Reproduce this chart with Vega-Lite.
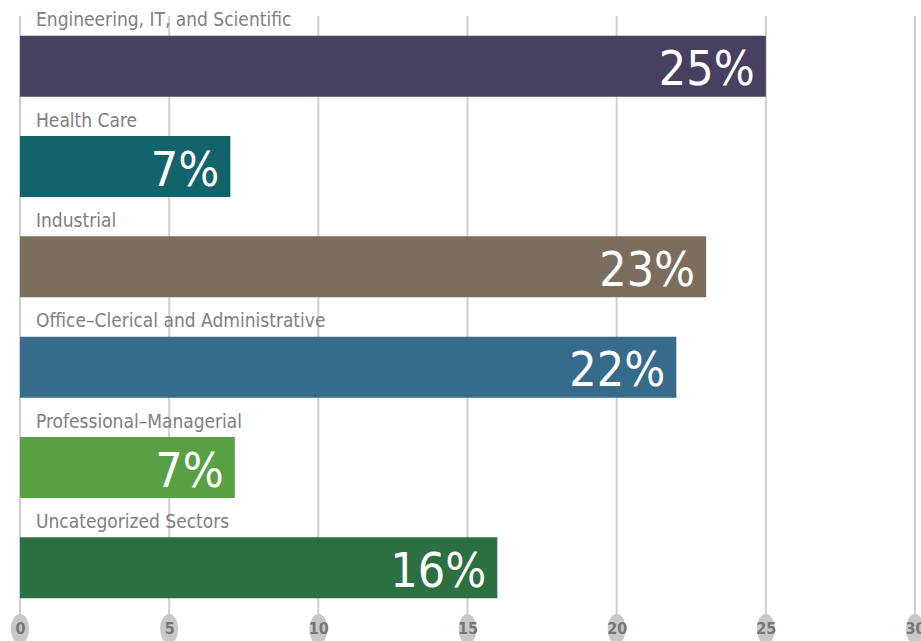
{
  "$schema": "https://vega.github.io/schema/vega-lite/v6.json",
  "width": 895,
  "height": 602,
  "autosize": "none",
  "padding": {"left": 20, "top": 16, "right": 6, "bottom": 23},
  "background": "white",
  "config": {"view": {"stroke": null}},
  "datasets": {
    "sectors": [
      {"sector": "Engineering, IT, and Scientific", "value": 25, "label": "25%"},
      {"sector": "Health Care", "value": 7.05, "label": "7%"},
      {"sector": "Industrial", "value": 23, "label": "23%"},
      {"sector": "Office–Clerical and Administrative", "value": 22, "label": "22%"},
      {"sector": "Professional–Managerial", "value": 7.2, "label": "7%"},
      {"sector": "Uncategorized Sectors", "value": 16, "label": "16%"}
    ],
    "ticks": [{"t": 0}, {"t": 5}, {"t": 10}, {"t": 15}, {"t": 20}, {"t": 25}, {"t": 30}]
  },
  "layer": [
    {
      "data": {"name": "ticks"},
      "mark": {"type": "rule", "color": "#cfcfcf", "strokeWidth": 2},
      "encoding": {
        "x": {
          "field": "t", "type": "quantitative",
          "scale": {"domain": [0, 30], "nice": false},
          "axis": {
            "values": [0, 5, 10, 15, 20, 25, 30],
            "grid": false, "ticks": false, "domain": false, "title": null,
            "zindex": 1, "labelFlush": false,
            "labelFont": "DejaVu Sans Condensed, Roboto, sans-serif", "labelFontSize": 16, "labelFontWeight": "bold",
            "labelColor": "#767676", "labelPadding": 2
          }
        }
      }
    },
    {
      "data": {"name": "ticks"},
      "mark": {"type": "point", "filled": true, "opacity": 1, "color": "#c8c8c8",
               "shape": "M 0 -1 A 0.6 1 0 1 1 0 1 A 0.6 1 0 1 1 0 -1 Z", "size": 900, "yOffset": 11},
      "encoding": {
        "x": {"field": "t", "type": "quantitative"},
        "y": {"value": "height"}
      }
    },
    {
      "data": {"name": "sectors"},
      "mark": {"type": "bar", "size": 61},
      "encoding": {
        "x": {"field": "value", "type": "quantitative"},
        "y": {"field": "sector", "type": "nominal", "sort": null, "axis": null, "scale": {"paddingInner": 0, "paddingOuter": 0}},
        "color": {
          "field": "sector", "type": "nominal", "legend": null,
          "scale": {
            "domain": ["Engineering, IT, and Scientific", "Health Care", "Industrial", "Office–Clerical and Administrative", "Professional–Managerial", "Uncategorized Sectors"],
            "range": ["#474060", "#12636a", "#7c6e5e", "#376b8c", "#59a045", "#2c6f40"]
          }
        }
      }
    },
    {
      "data": {"name": "sectors"},
      "mark": {"type": "text", "align": "left", "baseline": "middle", "dx": 16, "dy": -46,
               "font": "DejaVu Sans Condensed, Roboto, sans-serif", "fontSize": 19, "color": "#808080"},
      "encoding": {
        "x": {"datum": 0, "type": "quantitative"},
        "y": {"field": "sector", "type": "nominal", "sort": null},
        "text": {"field": "sector"}
      }
    },
    {
      "data": {"name": "sectors"},
      "mark": {"type": "text", "align": "right", "baseline": "alphabetic", "dx": -11, "dy": 19,
               "font": "DejaVu Sans Condensed, Roboto, sans-serif", "fontSize": 48, "color": "white"},
      "encoding": {
        "x": {"field": "value", "type": "quantitative"},
        "y": {"field": "sector", "type": "nominal", "sort": null},
        "text": {"field": "label"}
      }
    }
  ]
}
